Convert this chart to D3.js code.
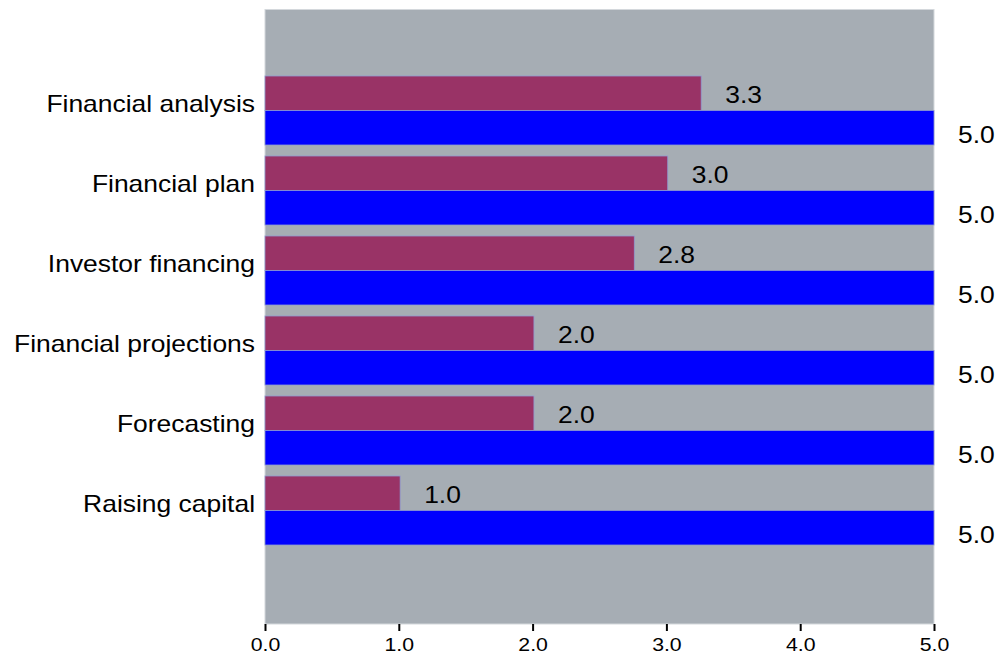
<!DOCTYPE html>
<html><head><meta charset="utf-8">
<script src="https://cdn.jsdelivr.net/npm/d3@7"></script>
<style>body{margin:0;background:#fff;}svg{display:block;}</style>
</head><body>
<script>
const categories = ["Financial analysis","Financial plan","Investor financing","Financial projections","Forecasting","Raising capital"];
const seriesA = [3.26, 3.01, 2.76, 2.01, 2.01, 1.01];
const seriesB = [5.0, 5.0, 5.0, 5.0, 5.0, 5.0];
const xTicks = [0, 1, 2, 3, 4, 5];
const colorA = "#993366", colorB = "#0000ff";

(function(){
const W = 1000, H = 654;
const mLeft = 265, mRight = 934, mTop = 9.5, mBottom = 624;
const SX = 1.15;
const svg = d3.select("body").append("svg").attr("width", W).attr("height", H)
  .style("font-family", "'Liberation Sans', Arial, sans-serif");

const x = d3.scaleLinear().domain([0, 5]).range([mLeft, mRight]);
const y = d3.scaleBand().domain(categories).range([70.5, 550.5]).paddingInner(0.1375).paddingOuter(0.06875);
const sub = d3.scaleBand().domain(["A","B"]).range([0, y.bandwidth()]);

svg.append("rect").attr("x", mLeft).attr("y", mTop).attr("width", mRight-mLeft).attr("height", mBottom-mTop)
  .attr("fill", "#a6adb4").attr("stroke", "#d4d8dc").attr("stroke-width", 1);

const g = svg.append("g");
const series = [{key:"A", vals: seriesA, color: colorA, dy: 27.3}, {key:"B", vals: seriesB, color: colorB, dy: 32.6}];
series.forEach(s => {
  g.selectAll(null).data(categories).enter().append("rect")
    .attr("x", x(0))
    .attr("y", d => y(d) + sub(s.key))
    .attr("width", (d,i) => x(s.vals[i]) - x(0))
    .attr("height", sub.bandwidth())
    .attr("fill", s.color)
    .attr("stroke", "#8f9ad0").attr("stroke-width", 0.8);
  g.selectAll(null).data(categories).enter().append("text")
    .attr("transform", (d,i) => `translate(${x(s.vals[i]) + 24},${y(d) + sub(s.key) + s.dy}) scale(${SX},1)`)
    .attr("font-size", 23).attr("fill", "#000")
    .text((d,i) => d3.format(".1f")(s.vals[i]));
});

svg.selectAll(".cat").data(categories).enter().append("text")
  .attr("transform", d => `translate(${mLeft - 10},${y(d) + y.bandwidth()/2 + 1.5}) scale(${SX},1)`)
  .attr("text-anchor", "end")
  .attr("font-size", 23).attr("fill", "#000")
  .text(d => d);

const ax = svg.append("g").attr("transform", `translate(0,${mBottom})`)
  .call(d3.axisBottom(x).tickValues(xTicks).tickFormat(d3.format(".1f")).tickSize(7).tickSizeOuter(0));
ax.select(".domain").remove();
ax.selectAll(".tick line").attr("stroke", "#000").attr("stroke-width", 2);
ax.selectAll(".tick text").attr("font-size", 18.5).attr("fill", "#000")
  .attr("y", 0).attr("dy", 0)
  .attr("transform", `translate(0,26.7) scale(${SX},1)`)
  .style("font-family", "'Liberation Sans', Arial, sans-serif");
})();
</script>
</body></html>
